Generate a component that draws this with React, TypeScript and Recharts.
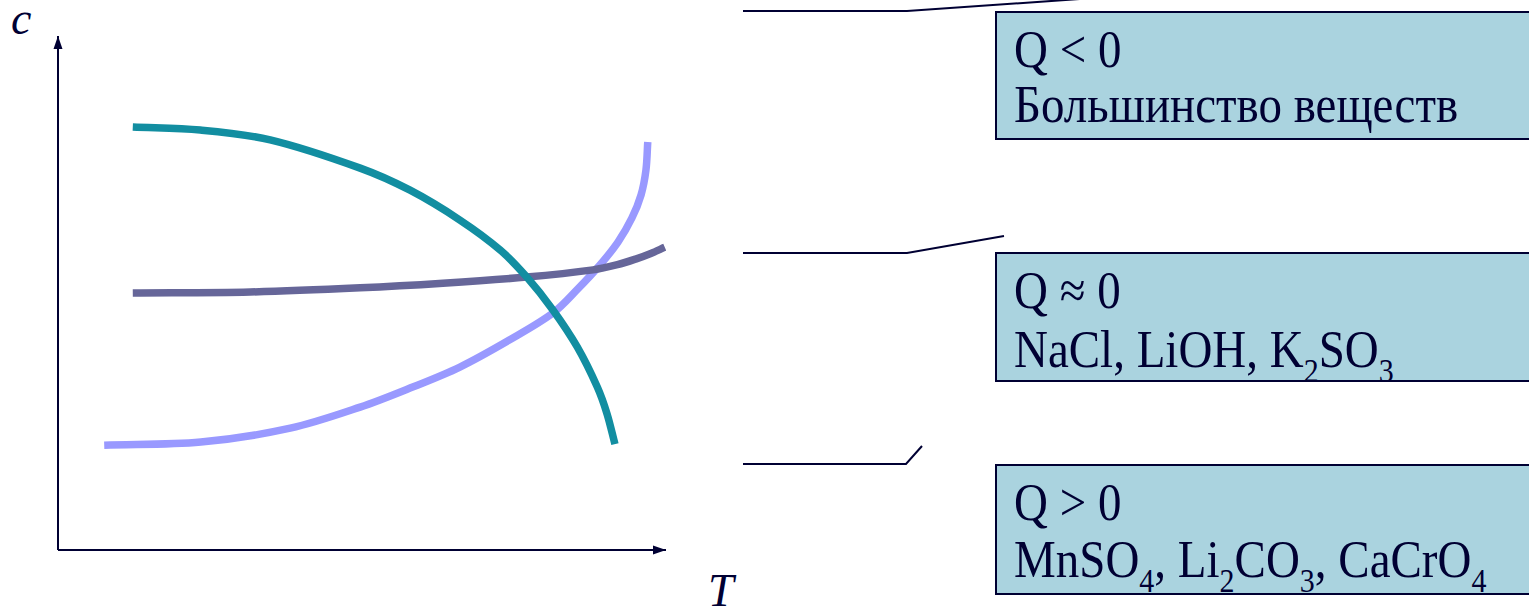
import React from 'react';
import { LineChart, Line, XAxis, YAxis, ReferenceLine, ReferenceDot } from 'recharts';

// Schematic solubility c(T) curves, axis units 0..100 on both axes
// Q < 0 : most substances (solubility rises with T)
const tempQneg = [7.6, 23.5, 38.2, 49.7, 57.9, 66.1, 74.3, 81.4, 85.5, 89.1, 92.1, 94.4, 95.9, 96.7, 97.0];
const solQneg = [20.4, 21.0, 23.7, 27.8, 31.5, 35.6, 40.9, 46.1, 50.8, 55.4, 59.9, 64.6, 69.1, 73.9, 79.4];

// Q ≈ 0 : NaCl, LiOH, K2SO3 (almost flat)
const tempQzero = [12.3, 31.6, 49.7, 63.3, 77.1, 88.0, 92.0, 95.0, 97.5, 99.8];
const solQzero = [50.0, 50.2, 51.0, 51.9, 53.1, 54.5, 55.5, 56.6, 57.7, 58.9];

// Q > 0 : MnSO4, Li2CO3, CaCrO4 (solubility falls with T)
const tempQpos = [12.3, 23.4, 34.9, 49.7, 57.9, 66.1, 72.7, 77.1, 81.4, 85.4, 88.7, 90.3, 91.6];
const solQpos = [82.3, 81.7, 79.8, 74.3, 70.0, 64.2, 58.4, 53.1, 46.7, 39.5, 31.7, 26.5, 20.6];

const toPoints = (ts: number[], cs: number[]) => ts.map((t, i) => ({ t, c: cs[i] }));

const dataQneg = toPoints(tempQneg, solQneg);
const dataQzero = toPoints(tempQzero, solQzero);
const dataQpos = toPoints(tempQpos, solQpos);

const INK = '#000033';
const BOX_FILL = '#aad3df';
const FONT = '"Liberation Serif", "Times New Roman", serif';
const FS = 47;
const SUB = 30;
const SHIFT = 13.5;
const STRETCH = 1.12;
const CURVE_W = 7.5;

// d3-style curve factory: geometric Hermite spline, tangents from neighbours,
// handle lengths from the segment length (copes with uneven spacing / near-vertical ends)
const smoothCurve = (context: any) => {
  let pts: number[][] = [];
  const unit = (dx: number, dy: number) => {
    const l = Math.hypot(dx, dy) || 1;
    return [dx / l, dy / l];
  };
  return {
    areaStart() {},
    areaEnd() {},
    lineStart() {
      pts = [];
    },
    point(x: number, y: number) {
      pts.push([+x, +y]);
    },
    lineEnd() {
      const n = pts.length;
      if (!n) return;
      context.moveTo(pts[0][0], pts[0][1]);
      if (n === 1) return;
      const tan = pts.map((p, i) => {
        const a = pts[Math.max(i - 1, 0)];
        const b = pts[Math.min(i + 1, n - 1)];
        return unit(b[0] - a[0], b[1] - a[1]);
      });
      for (let i = 0; i < n - 1; i++) {
        const p1 = pts[i];
        const p2 = pts[i + 1];
        const h = Math.hypot(p2[0] - p1[0], p2[1] - p1[1]) / 3;
        context.bezierCurveTo(
          p1[0] + tan[i][0] * h,
          p1[1] + tan[i][1] * h,
          p2[0] - tan[i + 1][0] * h,
          p2[1] - tan[i + 1][1] * h,
          p2[0],
          p2[1]
        );
      }
    },
  };
};

const ArrowRight = (props: any) => {
  const { cx, cy } = props;
  return <polygon points={`${cx},${cy} ${cx - 13},${cy - 4.5} ${cx - 13},${cy + 4.5}`} fill={INK} />;
};

const ArrowUp = (props: any) => {
  const { cx, cy } = props;
  return <polygon points={`${cx},${cy} ${cx - 4.5},${cy + 13} ${cx + 4.5},${cy + 13}`} fill={INK} />;
};

const BoxLine = ({ y, children }: { y: number; children: React.ReactNode }) => (
  <text transform={`translate(1014 ${y}) scale(1 ${STRETCH})`} fontSize={FS}>
    {children}
  </text>
);

export default function App() {
  return (
    <div
      style={{
        position: 'absolute',
        left: 0,
        top: 0,
        width: 1529,
        height: 607,
        overflow: 'hidden',
        background: '#ffffff',
      }}
    >
      <div style={{ position: 'absolute', left: 0, top: 0 }}>
        <LineChart width={760} height={607} margin={{ top: 36, right: 94, bottom: 57, left: 58 }}>
          <XAxis type="number" dataKey="t" domain={[0, 100]} hide allowDataOverflow />
          <YAxis type="number" dataKey="c" domain={[0, 100]} hide allowDataOverflow />

          {/* axes with arrow heads */}
          <ReferenceLine segment={[{ x: 0, y: 0 }, { x: 100, y: 0 }]} stroke={INK} strokeWidth={2} ifOverflow="visible" />
          <ReferenceLine segment={[{ x: 0, y: 0 }, { x: 0, y: 100 }]} stroke={INK} strokeWidth={2} ifOverflow="visible" />
          <ReferenceDot x={100} y={0} r={0} ifOverflow="visible" shape={ArrowRight} />
          <ReferenceDot x={0} y={100} r={0} ifOverflow="visible" shape={ArrowUp} />

          <Line
            data={dataQneg}
            dataKey="c"
            type={smoothCurve as any}
            stroke="#9999ff"
            strokeWidth={CURVE_W}
            dot={false}
            isAnimationActive={false}
          />
          <Line
            data={dataQzero}
            dataKey="c"
            type={smoothCurve as any}
            stroke="#666699"
            strokeWidth={CURVE_W}
            dot={false}
            isAnimationActive={false}
          />
          <Line
            data={dataQpos}
            dataKey="c"
            type={smoothCurve as any}
            stroke="#128ea1"
            strokeWidth={CURVE_W}
            dot={false}
            isAnimationActive={false}
          />
        </LineChart>
      </div>

      <svg
        width={1529}
        height={607}
        style={{ position: 'absolute', left: 0, top: 0, pointerEvents: 'none' }}
        fontFamily={FONT}
        fill={INK}
      >
        {/* axis letters */}
        <text x={11} y={34} fontSize={46} fontStyle="italic">c</text>
        <text x={708} y={606} fontSize={46} fontStyle="italic">T</text>

        {/* leader lines */}
        <polyline points="743,11 907,11 1100,-2.4" fill="none" stroke={INK} strokeWidth={2} />
        <polyline points="743,253 907,253 1004,236" fill="none" stroke={INK} strokeWidth={2} />
        <polyline points="743,464 906,464 922,446" fill="none" stroke={INK} strokeWidth={2} />

        {/* boxes */}
        <rect x={996} y={12} width={600} height={127} fill={BOX_FILL} stroke={INK} strokeWidth={2} />
        <BoxLine y={67}>Q &lt; 0</BoxLine>
        <BoxLine y={122}>Большинство веществ</BoxLine>

        <rect x={996} y={253} width={600} height={128} fill={BOX_FILL} stroke={INK} strokeWidth={2} />
        <BoxLine y={308}>Q ≈ 0</BoxLine>
        <BoxLine y={367}>
          NaCl, LiOH, K
          <tspan dy={SHIFT} fontSize={SUB}>2</tspan>
          <tspan dy={-SHIFT}>SO</tspan>
          <tspan dy={SHIFT} fontSize={SUB}>3</tspan>
        </BoxLine>

        <rect x={996} y={465} width={600} height={129} fill={BOX_FILL} stroke={INK} strokeWidth={2} />
        <BoxLine y={520}>Q &gt; 0</BoxLine>
        <BoxLine y={577}>
          MnSO
          <tspan dy={SHIFT} fontSize={SUB}>4</tspan>
          <tspan dy={-SHIFT}>, Li</tspan>
          <tspan dy={SHIFT} fontSize={SUB}>2</tspan>
          <tspan dy={-SHIFT}>CO</tspan>
          <tspan dy={SHIFT} fontSize={SUB}>3</tspan>
          <tspan dy={-SHIFT}>, CaCrO</tspan>
          <tspan dy={SHIFT} fontSize={SUB}>4</tspan>
        </BoxLine>
      </svg>
    </div>
  );
}
